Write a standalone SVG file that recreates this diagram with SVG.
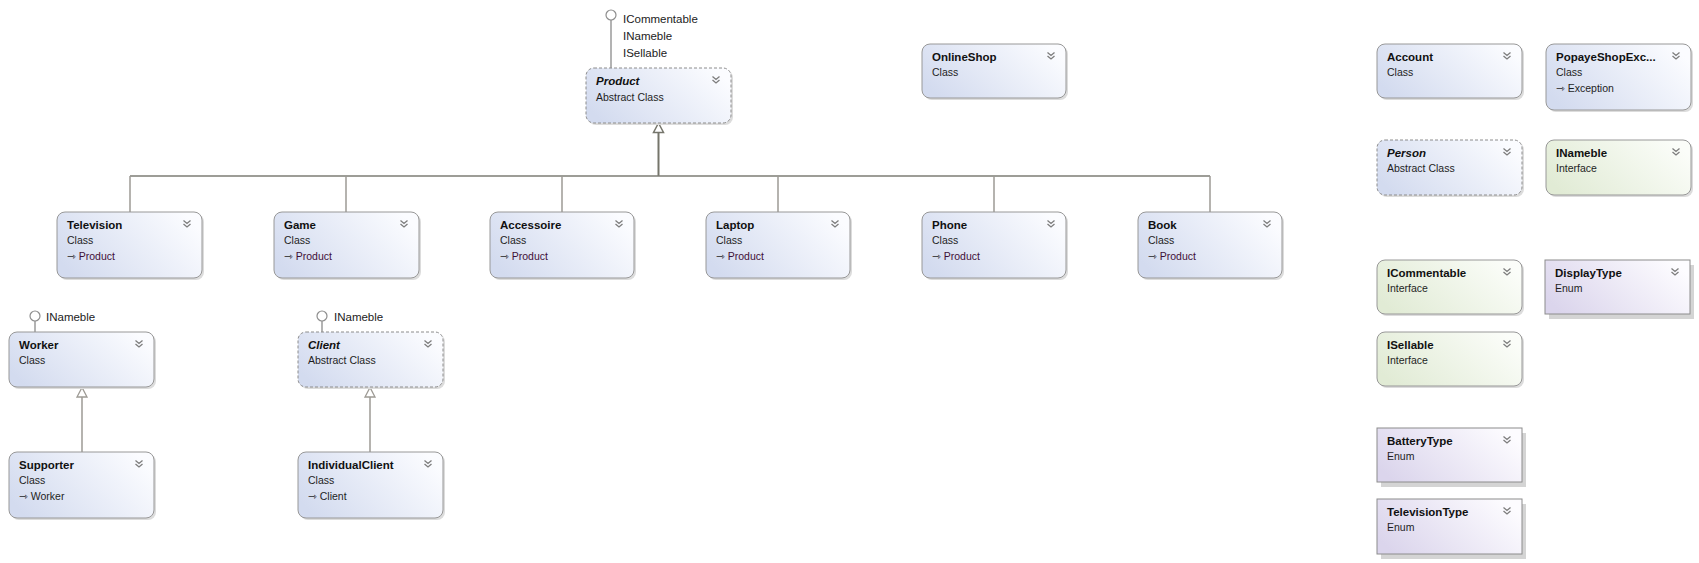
<svg xmlns="http://www.w3.org/2000/svg" xmlns:xlink="http://www.w3.org/1999/xlink" width="1699" height="563" viewBox="0 0 1699 563">
<style>
  .t{font-family:"Liberation Sans",Arial,sans-serif;font-size:11.5px;font-weight:bold;fill:#111}
  .ti{font-family:"Liberation Sans",Arial,sans-serif;font-size:11.5px;font-weight:bold;font-style:italic;fill:#111}
  .s{font-family:"Liberation Sans",Arial,sans-serif;font-size:10.5px;fill:#1e1e1e}
  .b{fill:#3f1038}
  .ar{font-family:"DejaVu Sans",sans-serif;font-size:10.5px;fill:#1e1e1e}
  .lbl{font-family:"Liberation Sans",Arial,sans-serif;font-size:11.5px;fill:#222}
  .cls{fill:url(#gClass);stroke:#989898;stroke-width:1}
  .abs{fill:url(#gClass);stroke:#8c8c8c;stroke-width:1;stroke-dasharray:3 2}
  .itf{fill:url(#gItf);stroke:#989898;stroke-width:1}
  .enm{fill:url(#gEnum);stroke:#8c8c8c;stroke-width:1}
  .sh{fill:#dcdcdc}
  .esh{fill:#d4d4d4}
  .chev{fill:none;stroke:#7d7d7d;stroke-width:1.3}
  .trunk{stroke:#75756b;stroke-width:2;fill:none}
  .hz{stroke:#7d7c74;stroke-width:1.6;fill:none}
  .branch{stroke:#9d9a94;stroke-width:1.5;fill:none}
  .tri{fill:#fff;stroke:#75756b;stroke-width:1.5}
  .tri2{fill:#fff;stroke:#9d9a94;stroke-width:1.3}
  .lol{fill:#fff;stroke:#8e8e8e;stroke-width:1.2}
  .lolline{stroke:#9a9a9a;stroke-width:1.5}
</style>
<defs>
  <linearGradient id="gClass" x1="0" y1="0.7" x2="1" y2="0.3">
    <stop offset="0" stop-color="#d3dbef"/>
    <stop offset="1" stop-color="#fbfcff"/>
  </linearGradient>
  <linearGradient id="gItf" x1="0" y1="0.7" x2="1" y2="0.3">
    <stop offset="0" stop-color="#e1ebd5"/>
    <stop offset="1" stop-color="#fbfdf9"/>
  </linearGradient>
  <linearGradient id="gEnum" x1="0" y1="0.7" x2="1" y2="0.3">
    <stop offset="0" stop-color="#dbd5ec"/>
    <stop offset="1" stop-color="#fdfcff"/>
  </linearGradient>
  <path id="chev" class="chev" d="M-3.5,-3.5 L0,-0.5 L3.5,-3.5 M-3.5,0 L0,3 L3.5,0"/>
</defs>
<rect width="1699" height="563" fill="#fff"/>

<g id="connectors">
  <line class="trunk" x1="658.5" y1="132.5" x2="658.5" y2="176"/>
  <polygon class="tri" points="658.5,123 653.5,132.5 663.5,132.5"/>
  <line class="hz" x1="130" y1="176" x2="1210" y2="176"/>
  <line class="branch" x1="130" y1="176" x2="130" y2="212"/>
  <line class="branch" x1="346" y1="176" x2="346" y2="212"/>
  <line class="branch" x1="562" y1="176" x2="562" y2="212"/>
  <line class="branch" x1="778" y1="176" x2="778" y2="212"/>
  <line class="branch" x1="994" y1="176" x2="994" y2="212"/>
  <line class="branch" x1="1210" y1="176" x2="1210" y2="212"/>
  <line class="branch" x1="82" y1="397" x2="82" y2="452"/>
  <polygon class="tri2" points="82,387.5 77,397 87,397"/>
  <line class="branch" x1="370" y1="397" x2="370" y2="452"/>
  <polygon class="tri2" points="370,387.5 365,397 375,397"/>
  <line class="lolline" x1="611" y1="20" x2="611" y2="68"/>
  <circle class="lol" cx="611" cy="15" r="5"/>
  <text class="lbl" x="623" y="22.5">ICommentable</text>
  <text class="lbl" x="623" y="39.5">INameble</text>
  <text class="lbl" x="623" y="57">ISellable</text>
  <line class="lolline" x1="35" y1="321" x2="35" y2="332"/>
  <circle class="lol" cx="35" cy="316" r="5"/>
  <text class="lbl" x="46" y="321">INameble</text>
  <line class="lolline" x1="322" y1="321" x2="322" y2="332"/>
  <circle class="lol" cx="322" cy="316" r="5"/>
  <text class="lbl" x="334" y="321">INameble</text>
</g>

<g id="Product" transform="translate(586,68)">
  <rect class="sh" x="2" y="2" width="145" height="55" rx="8"/>
  <rect class="abs" x="0" y="0" width="145" height="55" rx="8"/>
  <text class="ti" x="10" y="17">Product</text>
  <text class="s" x="10" y="32.5">Abstract Class</text>
  <use href="#chev" x="130" y="12"/>
</g>

<g id="OnlineShop" transform="translate(922,44)">
  <rect class="sh" x="2" y="2" width="144" height="54" rx="8"/>
  <rect class="cls" x="0" y="0" width="144" height="54" rx="8"/>
  <text class="t" x="10" y="17">OnlineShop</text>
  <text class="s" x="10" y="32">Class</text>
  <use href="#chev" x="129" y="12"/>
</g>

<g id="Account" transform="translate(1377,44)">
  <rect class="sh" x="2" y="2" width="145" height="54" rx="8"/>
  <rect class="cls" x="0" y="0" width="145" height="54" rx="8"/>
  <text class="t" x="10" y="17">Account</text>
  <text class="s" x="10" y="32">Class</text>
  <use href="#chev" x="130" y="12"/>
</g>

<g id="PopayeShopException" transform="translate(1546,44)">
  <rect class="sh" x="2" y="2" width="145" height="66" rx="8"/>
  <rect class="cls" x="0" y="0" width="145" height="66" rx="8"/>
  <text class="t" x="10" y="17">PopayeShopExc...</text>
  <text class="s" x="10" y="32">Class</text>
  <text class="s" x="10" y="48"><tspan class="ar">⇾</tspan> Exception</text>
  <use href="#chev" x="130" y="12"/>
</g>

<g id="Person" transform="translate(1377,140)">
  <rect class="sh" x="2" y="2" width="145" height="55" rx="8"/>
  <rect class="abs" x="0" y="0" width="145" height="55" rx="8"/>
  <text class="ti" x="10" y="17">Person</text>
  <text class="s" x="10" y="32">Abstract Class</text>
  <use href="#chev" x="130" y="12"/>
</g>

<g id="INameble" transform="translate(1546,140)">
  <rect class="sh" x="2" y="2" width="145" height="55" rx="8"/>
  <rect class="itf" x="0" y="0" width="145" height="55" rx="8"/>
  <text class="t" x="10" y="17">INameble</text>
  <text class="s" x="10" y="32">Interface</text>
  <use href="#chev" x="130" y="12"/>
</g>

<g id="Television" transform="translate(57,212)">
  <rect class="sh" x="2" y="2" width="145" height="66" rx="8"/>
  <rect class="cls" x="0" y="0" width="145" height="66" rx="8"/>
  <text class="t" x="10" y="17">Television</text>
  <text class="s" x="10" y="32">Class</text>
  <text class="s" x="10" y="48"><tspan class="ar">⇾</tspan> <tspan class="b">Product</tspan></text>
  <use href="#chev" x="130" y="12"/>
</g>

<g id="Game" transform="translate(274,212)">
  <rect class="sh" x="2" y="2" width="145" height="66" rx="8"/>
  <rect class="cls" x="0" y="0" width="145" height="66" rx="8"/>
  <text class="t" x="10" y="17">Game</text>
  <text class="s" x="10" y="32">Class</text>
  <text class="s" x="10" y="48"><tspan class="ar">⇾</tspan> <tspan class="b">Product</tspan></text>
  <use href="#chev" x="130" y="12"/>
</g>

<g id="Accessoire" transform="translate(490,212)">
  <rect class="sh" x="2" y="2" width="144" height="66" rx="8"/>
  <rect class="cls" x="0" y="0" width="144" height="66" rx="8"/>
  <text class="t" x="10" y="17">Accessoire</text>
  <text class="s" x="10" y="32">Class</text>
  <text class="s" x="10" y="48"><tspan class="ar">⇾</tspan> <tspan class="b">Product</tspan></text>
  <use href="#chev" x="129" y="12"/>
</g>

<g id="Laptop" transform="translate(706,212)">
  <rect class="sh" x="2" y="2" width="144" height="66" rx="8"/>
  <rect class="cls" x="0" y="0" width="144" height="66" rx="8"/>
  <text class="t" x="10" y="17">Laptop</text>
  <text class="s" x="10" y="32">Class</text>
  <text class="s" x="10" y="48"><tspan class="ar">⇾</tspan> <tspan class="b">Product</tspan></text>
  <use href="#chev" x="129" y="12"/>
</g>

<g id="Phone" transform="translate(922,212)">
  <rect class="sh" x="2" y="2" width="144" height="66" rx="8"/>
  <rect class="cls" x="0" y="0" width="144" height="66" rx="8"/>
  <text class="t" x="10" y="17">Phone</text>
  <text class="s" x="10" y="32">Class</text>
  <text class="s" x="10" y="48"><tspan class="ar">⇾</tspan> <tspan class="b">Product</tspan></text>
  <use href="#chev" x="129" y="12"/>
</g>

<g id="Book" transform="translate(1138,212)">
  <rect class="sh" x="2" y="2" width="144" height="66" rx="8"/>
  <rect class="cls" x="0" y="0" width="144" height="66" rx="8"/>
  <text class="t" x="10" y="17">Book</text>
  <text class="s" x="10" y="32">Class</text>
  <text class="s" x="10" y="48"><tspan class="ar">⇾</tspan> <tspan class="b">Product</tspan></text>
  <use href="#chev" x="129" y="12"/>
</g>

<g id="ICommentable" transform="translate(1377,260)">
  <rect class="sh" x="2" y="2" width="145" height="54" rx="8"/>
  <rect class="itf" x="0" y="0" width="145" height="54" rx="8"/>
  <text class="t" x="10" y="17">ICommentable</text>
  <text class="s" x="10" y="32">Interface</text>
  <use href="#chev" x="130" y="12"/>
</g>

<g id="DisplayType" transform="translate(1545,260)">
  <rect class="esh" x="4" y="5" width="145" height="54"/>
  <rect class="enm" x="0" y="0" width="145" height="54"/>
  <text class="t" x="10" y="17">DisplayType</text>
  <text class="s" x="10" y="32">Enum</text>
  <use href="#chev" x="130" y="12"/>
</g>

<g id="ISellable" transform="translate(1377,332)">
  <rect class="sh" x="2" y="2" width="145" height="54" rx="8"/>
  <rect class="itf" x="0" y="0" width="145" height="54" rx="8"/>
  <text class="t" x="10" y="17">ISellable</text>
  <text class="s" x="10" y="32">Interface</text>
  <use href="#chev" x="130" y="12"/>
</g>

<g id="Worker" transform="translate(9,332)">
  <rect class="sh" x="2" y="2" width="145" height="55" rx="8"/>
  <rect class="cls" x="0" y="0" width="145" height="55" rx="8"/>
  <text class="t" x="10" y="17">Worker</text>
  <text class="s" x="10" y="32">Class</text>
  <use href="#chev" x="130" y="12"/>
</g>

<g id="Client" transform="translate(298,332)">
  <rect class="sh" x="2" y="2" width="145" height="55" rx="8"/>
  <rect class="abs" x="0" y="0" width="145" height="55" rx="8"/>
  <text class="ti" x="10" y="17">Client</text>
  <text class="s" x="10" y="32">Abstract Class</text>
  <use href="#chev" x="130" y="12"/>
</g>

<g id="Supporter" transform="translate(9,452)">
  <rect class="sh" x="2" y="2" width="145" height="66" rx="8"/>
  <rect class="cls" x="0" y="0" width="145" height="66" rx="8"/>
  <text class="t" x="10" y="17">Supporter</text>
  <text class="s" x="10" y="32">Class</text>
  <text class="s" x="10" y="48"><tspan class="ar">⇾</tspan> Worker</text>
  <use href="#chev" x="130" y="12"/>
</g>

<g id="IndividualClient" transform="translate(298,452)">
  <rect class="sh" x="2" y="2" width="145" height="66" rx="8"/>
  <rect class="cls" x="0" y="0" width="145" height="66" rx="8"/>
  <text class="t" x="10" y="17">IndividualClient</text>
  <text class="s" x="10" y="32">Class</text>
  <text class="s" x="10" y="48"><tspan class="ar">⇾</tspan> Client</text>
  <use href="#chev" x="130" y="12"/>
</g>

<g id="BatteryType" transform="translate(1377,428)">
  <rect class="esh" x="4" y="5" width="145" height="54"/>
  <rect class="enm" x="0" y="0" width="145" height="54"/>
  <text class="t" x="10" y="17">BatteryType</text>
  <text class="s" x="10" y="32">Enum</text>
  <use href="#chev" x="130" y="12"/>
</g>

<g id="TelevisionType" transform="translate(1377,499)">
  <rect class="esh" x="4" y="5" width="145" height="55"/>
  <rect class="enm" x="0" y="0" width="145" height="55"/>
  <text class="t" x="10" y="17">TelevisionType</text>
  <text class="s" x="10" y="32">Enum</text>
  <use href="#chev" x="130" y="12"/>
</g>
</svg>
